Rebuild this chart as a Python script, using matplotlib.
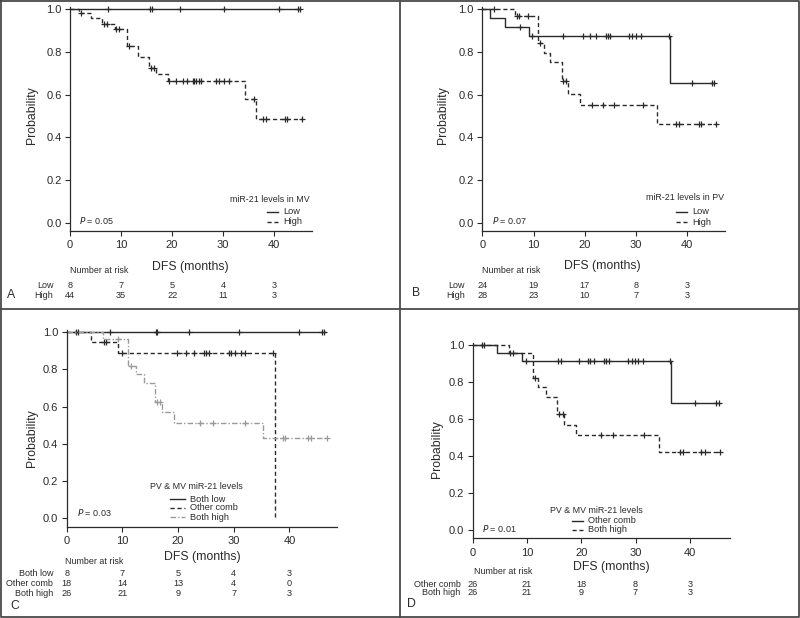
import matplotlib
matplotlib.use("Agg")
from matplotlib import pyplot as plt
from matplotlib import transforms
from matplotlib.lines import Line2D
import numpy as np

plt.rcParams['font.family'] = ['Liberation Sans', 'DejaVu Sans']

W, H = 800, 618
INK = '#2a2a2a'
x_ticks = [0, 10, 20, 30, 40]
y_ticks = [0.0, 0.2, 0.4, 0.6, 0.8, 1.0]
risk_times = [0, 10, 20, 30, 40]

# ---- panel A: miR-21 in MV
a_title = 'miR-21 levels in MV'
a_groups = ['Low', 'High']
a_low_t, a_low_s = [], []
a_low_cens = [7.5, 15.6, 16.1, 21.5, 30.1, 40.9, 44.7, 45.1]
a_low_end = 45.1
a_high_t = [1.8, 4.2, 6.2, 8.8, 11.1, 13.3, 15.4, 16.8, 19.2, 34.3, 36.5]
a_high_s = [0.981, 0.958, 0.931, 0.906, 0.828, 0.775, 0.723, 0.697, 0.666, 0.580, 0.486]
a_high_cens = [2.1, 6.7, 7.2, 9.1, 9.6, 11.5, 15.8, 16.4, 19.4, 20.8, 22.1, 23.0, 24.0,
               24.3, 24.7, 25.2, 25.7, 28.5, 29.2, 30.1, 31.1, 36.1, 37.8, 38.3, 42.1,
               42.6, 45.4]
a_high_end = 45.4
a_risk = [[8, 7, 5, 4, 3], [44, 35, 22, 11, 3]]
a_p = '0.05'

# ---- panel B: miR-21 in PV
b_title = 'miR-21 levels in PV'
b_groups = ['Low', 'High']
b_low_t = [1.5, 4.5, 9.1, 36.6]
b_low_s = [0.958, 0.919, 0.875, 0.656]
b_low_cens = [7.3, 9.8, 15.7, 19.6, 21.0, 22.3, 24.1, 24.6, 24.9, 28.6, 29.3, 30.1,
              30.9, 36.4, 41.0, 44.9, 45.2]
b_low_end = 45.2
b_high_t = [6.4, 10.9, 12.0, 13.3, 15.6, 16.8, 19.1, 34.1]
b_high_s = [0.969, 0.840, 0.797, 0.752, 0.666, 0.603, 0.552, 0.461]
b_high_cens = [2.2, 6.7, 7.2, 9.0, 11.2, 15.8, 16.3, 21.5, 23.5, 25.7, 31.4, 37.9,
               38.4, 42.3, 42.8, 45.6]
b_high_end = 45.6
b_risk = [[24, 19, 17, 8, 3], [28, 23, 10, 7, 3]]
b_p = '0.07'

# ---- panel C: PV & MV combined, three groups
c_title = 'PV & MV miR-21 levels'
c_groups = ['Both low', 'Other comb', 'Both high']
c_low_t, c_low_s = [], []
c_low_cens = [1.7, 2.1, 7.7, 16.0, 16.3, 22.0, 31.0, 41.8, 45.9, 46.3]
c_low_end = 46.4
c_other_t = [4.3, 9.3, 37.4]
c_other_s = [0.946, 0.891, 0.0]
c_other_cens = [6.7, 7.1, 9.9, 19.9, 21.4, 22.8, 24.6, 25.1, 25.6, 29.2, 29.6, 30.2,
                31.3, 32.0, 37.1]
c_other_end = 37.4
c_high_t = [6.6, 11.1, 12.5, 13.8, 15.9, 17.2, 19.3, 35.3]
c_high_s = [0.962, 0.820, 0.776, 0.726, 0.627, 0.573, 0.514, 0.430]
c_high_cens = [9.3, 11.5, 16.2, 16.8, 24.0, 26.2, 32.0, 38.8, 39.2, 43.4, 43.9, 46.7]
c_high_end = 46.7
c_risk = [[8, 7, 5, 4, 3], [18, 14, 13, 4, 0], [26, 21, 9, 7, 3]]
c_p = '0.03'

# ---- panel D: PV & MV combined, two groups
d_title = 'PV & MV miR-21 levels'
d_groups = ['Other comb', 'Both high']
d_other_t = [4.4, 9.1, 36.6]
d_other_s = [0.959, 0.915, 0.688]
d_other_cens = [1.7, 2.1, 6.9, 7.5, 9.8, 15.8, 16.2, 19.6, 21.2, 21.6, 22.4, 24.2,
                24.5, 25.1, 28.7, 29.3, 29.9, 30.5, 31.4, 36.4, 40.9, 44.9, 45.3]
d_other_end = 45.3
d_high_t = [6.7, 11.2, 12.0, 13.5, 15.6, 16.9, 19.0, 34.4]
d_high_s = [0.959, 0.823, 0.771, 0.721, 0.627, 0.568, 0.514, 0.423]
d_high_cens = [11.5, 15.9, 16.6, 23.6, 25.8, 31.5, 38.2, 38.7, 42.1, 42.8, 45.6]
d_high_end = 45.6
d_risk = [[26, 21, 18, 8, 3], [26, 21, 9, 7, 3]]
d_p = '0.01'

SOLID = dict(color=INK, ls='-')
DASH = dict(color=INK, ls=(0, (3, 2)))
LIGHT = dict(color='#9a9a9a', ls=(0, (4, 1.5, 1, 1.5)))


def fx(x):
    return x / W


def fy(y):
    return 1 - y / H


def km(ax, t, s, cens, end, style):
    xs = [0] + list(t) + [end]
    ys = [1.0] + list(s) + [s[-1] if s else 1.0]
    ax.step(xs, ys, where='post', lw=1.0, clip_on=False, **style)
    idx = np.searchsorted(t, cens, side='right')
    cy = [1.0 if i == 0 else s[i - 1] for i in idx]
    ax.plot(cens, cy, ls='none', marker='+', ms=5, mew=0.9, color=style['color'],
            clip_on=False)


def panel(fig, box, xmax, ybot):
    l, t, r, b = box
    ax = fig.add_axes([fx(l), fy(b), fx(r - l), (b - t) / H])
    ax.set_xlim(0, xmax)
    ax.set_ylim(ybot, 1.01)
    ax.set_xticks(x_ticks)
    ax.set_yticks(y_ticks)
    ax.set_yticklabels([f'{v:.1f}' for v in y_ticks])
    for side in ['top', 'right']:
        ax.spines[side].set_visible(False)
    for side in ['left', 'bottom']:
        ax.spines[side].set_linewidth(0.9)
        ax.spines[side].set_color(INK)
    ax.tick_params(direction='out', length=3.5, width=0.8, color=INK,
                   labelsize=8, labelcolor=INK)
    ax.tick_params(axis='x', pad=3.5)
    ax.tick_params(axis='y', pad=2.5)
    ax.patch.set_alpha(0)
    return ax


def txt(fig, x, y, s, **kw):
    kw.setdefault('color', INK)
    fig.text(fx(x), fy(y), s, **kw)


def legend(fig, title, title_xy, x0, x1, ys, groups, styles):
    txt(fig, title_xy[0], title_xy[1], title, fontsize=6.4, ha='center', va='center')
    for y, g, st in zip(ys, groups, styles):
        fig.add_artist(Line2D([fx(x0), fx(x1)], [fy(y), fy(y)], lw=1.0,
                              transform=fig.transFigure, **st))
        txt(fig, x1 + 5, y, g, fontsize=6.6, ha='left', va='center')


def risk_table(fig, ax, head_xy, label_right, rows_y, groups, counts):
    txt(fig, head_xy[0], head_xy[1], 'Number at risk', fontsize=6.4, ha='left', va='center')
    tr = transforms.blended_transform_factory(ax.transData, fig.transFigure)
    for y, g, row in zip(rows_y, groups, counts):
        txt(fig, label_right, y, g, fontsize=6.5, ha='right', va='center')
        for tm, n in zip(risk_times, row):
            ax.text(tm, fy(y), str(n), transform=tr, fontsize=6.6, ha='center',
                    va='center', color=INK)


fig = plt.figure(figsize=(8, 6.18), dpi=100)

# frame around the four panels
frame = dict(color='#4a4a4a', lw=1.3, transform=fig.transFigure)
fig.add_artist(Line2D([fx(1), fx(799), fx(799), fx(1), fx(1)],
                      [fy(1), fy(1), fy(617), fy(617), fy(1)], **frame))
fig.add_artist(Line2D([fx(400), fx(400)], [fy(1), fy(617)], **frame))
fig.add_artist(Line2D([fx(1), fx(799)], [fy(309), fy(309)], **frame))

# A
ax = panel(fig, (70, 7.2, 312, 230.7), 47.4, -0.0375)
km(ax, a_low_t, a_low_s, a_low_cens, a_low_end, SOLID)
km(ax, a_high_t, a_high_s, a_high_cens, a_high_end, DASH)
txt(fig, 31.7, 115, 'Probability', fontsize=8.8, rotation=90, ha='center', va='center')
txt(fig, 190.8, 267, 'DFS (months)', fontsize=8.8, ha='center', va='center')
legend(fig, a_title, (270, 199.3), 267, 278, [211.7, 221.7], a_groups, [SOLID, DASH])
txt(fig, 79.3, 220, r'$\it{P}$' + ' = ' + a_p, fontsize=6.5, ha='left', va='center')
risk_table(fig, ax, (70, 271), 53.3, [286, 296], a_groups, a_risk)
txt(fig, 7, 295, 'A', fontsize=8.8, ha='left', va='center')

# B
ax = panel(fig, (482.3, 7.2, 725, 230.7), 47.4, -0.0375)
km(ax, b_low_t, b_low_s, b_low_cens, b_low_end, SOLID)
km(ax, b_high_t, b_high_s, b_high_cens, b_high_end, DASH)
txt(fig, 443.3, 115, 'Probability', fontsize=8.8, rotation=90, ha='center', va='center')
txt(fig, 602.5, 265.7, 'DFS (months)', fontsize=8.8, ha='center', va='center')
legend(fig, b_title, (685, 197.3), 676, 687, [212, 222], b_groups, [SOLID, DASH])
txt(fig, 491.7, 220, r'$\it{P}$' + ' = ' + b_p, fontsize=6.5, ha='left', va='center')
risk_table(fig, ax, (481.7, 271), 465, [286, 296], b_groups, b_risk)
txt(fig, 411.7, 293.3, 'B', fontsize=8.8, ha='left', va='center')

# C
ax = panel(fig, (66.7, 330.4, 336.7, 526.7), 48.5, -0.045)
km(ax, c_low_t, c_low_s, c_low_cens, c_low_end, SOLID)
km(ax, c_other_t, c_other_s, c_other_cens, c_other_end, DASH)
km(ax, c_high_t, c_high_s, c_high_cens, c_high_end, LIGHT)
txt(fig, 31.7, 438, 'Probability', fontsize=8.8, rotation=90, ha='center', va='center')
txt(fig, 202, 556.7, 'DFS (months)', fontsize=8.8, ha='center', va='center')
legend(fig, c_title, (196.5, 486.7), 170, 185, [499, 508, 517], c_groups,
       [SOLID, DASH, LIGHT])
txt(fig, 77.3, 512.7, r'$\it{P}$' + ' = ' + c_p, fontsize=6.5, ha='left', va='center')
risk_table(fig, ax, (65, 561.7), 53.3, [573.5, 583.5, 593.5], c_groups, c_risk)
txt(fig, 10, 605.7, 'C', fontsize=8.8, ha='left', va='center')

# D
ax = panel(fig, (472.7, 343.2, 730, 538.3), 47.4, -0.045)
km(ax, d_other_t, d_other_s, d_other_cens, d_other_end, SOLID)
km(ax, d_high_t, d_high_s, d_high_cens, d_high_end, DASH)
txt(fig, 436.7, 449, 'Probability', fontsize=8.8, rotation=90, ha='center', va='center')
txt(fig, 611.3, 566.7, 'DFS (months)', fontsize=8.8, ha='center', va='center')
legend(fig, d_title, (596, 510.7), 571.7, 582.7, [520.7, 530], d_groups, [SOLID, DASH])
txt(fig, 481.7, 528, r'$\it{P}$' + ' = ' + d_p, fontsize=6.5, ha='left', va='center')
risk_table(fig, ax, (474, 571.7), 460.7, [584.3, 592.7], d_groups, d_risk)
txt(fig, 407.3, 604, 'D', fontsize=8.8, ha='left', va='center')

fig.savefig('out.png', dpi=100)
